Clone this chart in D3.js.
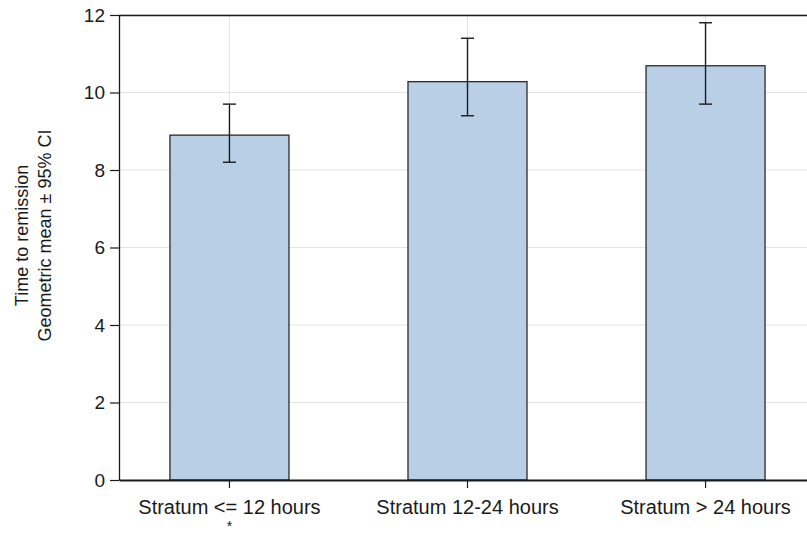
<!DOCTYPE html>
<html>
<head>
<meta charset="utf-8">
<script src="https://cdn.jsdelivr.net/npm/d3@7"></script>
<style>
  body { margin: 0; background: #fff; }
  text { font-family: "Liberation Sans", Arial, sans-serif; fill: #1a1a1a; }
</style>
</head>
<body>
<div id="chart"></div>
<script>
// data
const categories = ["Stratum <= 12 hours", "Stratum 12-24 hours", "Stratum > 24 hours"];
const means = [8.9, 10.28, 10.69];
const lower = [8.2, 9.4, 9.7];
const upper = [9.7, 11.4, 11.8];
const yTicks = [0, 2, 4, 6, 8, 10, 12];
const footnotes = ["*", "", ""];

const W = 807, H = 533;
const margin = {top: 15, left: 119, bottom: 53, right: -9};

const svg = d3.select("#chart").append("svg")
  .attr("width", W).attr("height", H);

const x = d3.scaleBand().domain(categories)
  .range([margin.left, W - margin.right])
  .paddingInner(0.5).paddingOuter(0.214);

const y = d3.scaleLinear().domain([0, 12]).range([H - margin.bottom, margin.top]);

// grid
svg.append("g").selectAll("line.h").data(yTicks.slice(1)).enter().append("line")
  .attr("x1", margin.left).attr("x2", W)
  .attr("y1", d => y(d)).attr("y2", d => y(d))
  .attr("stroke", "#e3e3e3").attr("stroke-width", 1);
svg.append("g").selectAll("line.v").data(categories).enter().append("line")
  .attr("x1", d => x(d) + x.bandwidth() / 2).attr("x2", d => x(d) + x.bandwidth() / 2)
  .attr("y1", y(0)).attr("y2", margin.top)
  .attr("stroke", "#e3e3e3").attr("stroke-width", 1);

// top border
svg.append("line")
  .attr("x1", margin.left).attr("x2", W)
  .attr("y1", margin.top + 0.5).attr("y2", margin.top + 0.5)
  .attr("stroke", "#1a1a1a").attr("stroke-width", 1.3);

// bars
svg.append("g").selectAll("rect").data(categories).enter().append("rect")
  .attr("x", d => x(d)).attr("width", x.bandwidth())
  .attr("y", (d, i) => y(means[i])).attr("height", (d, i) => y(0) - y(means[i]))
  .attr("fill", "#b8cfe6").attr("stroke", "#2b2b2b").attr("stroke-width", 1.3);

// error bars
const eb = svg.append("g").attr("stroke", "#1a1a1a").attr("stroke-width", 1.4);
categories.forEach((c, i) => {
  const cx = x(c) + x.bandwidth() / 2;
  eb.append("line").attr("x1", cx).attr("x2", cx).attr("y1", y(lower[i])).attr("y2", y(upper[i]));
  eb.append("line").attr("x1", cx - 6.5).attr("x2", cx + 6.5).attr("y1", y(lower[i])).attr("y2", y(lower[i]));
  eb.append("line").attr("x1", cx - 6.5).attr("x2", cx + 6.5).attr("y1", y(upper[i])).attr("y2", y(upper[i]));
});

// y axis
const yAxis = svg.append("g").attr("transform", `translate(${margin.left},0)`)
  .call(d3.axisLeft(y).tickValues(yTicks).tickSize(9).tickPadding(5).tickSizeOuter(0));
yAxis.select(".domain").attr("stroke", "#1a1a1a").attr("stroke-width", 1.3);
yAxis.selectAll(".tick line").attr("stroke", "#1a1a1a").attr("stroke-width", 1.2);
yAxis.selectAll("text").attr("font-size", 19).style("font-family", "Liberation Sans, Arial, sans-serif").attr("fill", "#1a1a1a");

// x axis
const xAxis = svg.append("g").attr("transform", `translate(0,${y(0)})`)
  .call(d3.axisBottom(x).tickSize(8).tickPadding(12).tickSizeOuter(0));
xAxis.select(".domain").attr("stroke", "#1a1a1a").attr("stroke-width", 2.2);
xAxis.selectAll(".tick line").attr("stroke", "#1a1a1a").attr("stroke-width", 1.2);
xAxis.selectAll("text").attr("font-size", 20).style("font-family", "Liberation Sans, Arial, sans-serif").attr("fill", "#1a1a1a");

// footnote markers under x labels
svg.append("g").selectAll("text").data(categories).enter().append("text")
  .attr("x", d => x(d) + x.bandwidth() / 2).attr("y", 531)
  .attr("text-anchor", "middle").attr("font-size", 14)
  .text((d, i) => footnotes[i]);

// y label
const yl = svg.append("text")
  .attr("transform", `translate(28,${(y(0) + y(12)) / 2 - 12}) rotate(-90)`)
  .attr("text-anchor", "middle").attr("font-size", 18);
yl.append("tspan").attr("x", 0).attr("dy", "0").text("Time to remission");
yl.append("tspan").attr("x", 0).attr("dy", "1.3em").text("Geometric mean \u00b1 95% CI");
</script>
</body>
</html>
